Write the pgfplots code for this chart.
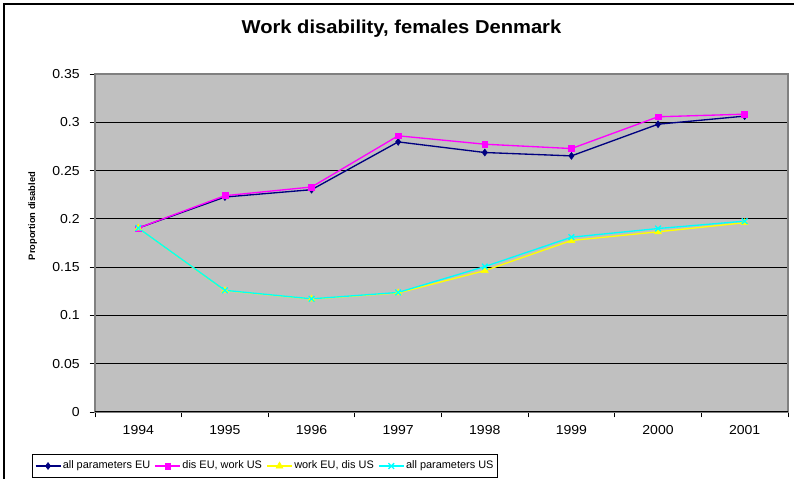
\documentclass[border=0pt]{standalone}
\usepackage{pgfplots}
\pgfplotsset{compat=1.18}
\usepackage{fontspec}
\setmainfont{Liberation Sans}[FakeStretch=1.08]
\newfontfamily\plainfont{Liberation Sans}
\definecolor{plotgray}{HTML}{C0C0C0}
\definecolor{bordergray}{HTML}{808080}
\definecolor{navyc}{HTML}{000080}
\definecolor{magc}{HTML}{FF00FF}
\definecolor{yelc}{HTML}{FFFF00}
\definecolor{cyac}{HTML}{00FFFF}
\begin{document}
\begin{tikzpicture}[x=1pt,y=1pt]
\useasboundingbox (0,0) rectangle (595.5,359.25);
\draw[black, line width=0.8pt] (3,-2) -- (3,356.25) -- (598,356.25);
\node[font=\fontsize{14}{16}\selectfont\bfseries] at (301.1,337.5) {Work disability, females Denmark};
\node[rotate=90, font=\plainfont\fontsize{7}{8}\selectfont\bfseries] at (24.5,197.25) {Proportion disabled};
\begin{axis}[
  at={(71.25pt,50.25pt)}, anchor=south west,
  scale only axis, width=519.75pt, height=253.5pt,
  xmin=-0.5, xmax=7.5, ymin=0, ymax=0.35,
  axis background/.style={fill=plotgray},
  axis line style={draw=bordergray, line width=0.8pt},
  ymajorgrids, grid style={black, line width=0.6pt},
  tick align=outside,
  xtick pos=bottom, ytick pos=left,
  xtick={0,1,2,3,4,5,6,7},
  xticklabels={1994,1995,1996,1997,1998,1999,2000,2001},
  major x tick style={draw=none},
  minor xtick={-0.5,0.5,1.5,2.5,3.5,4.5,5.5,6.5,7.5},
  minor x tick style={black, line width=0.6pt},
  minor tick length=4pt,
  major tick length=4pt,
  ytick={0,0.05,0.1,0.15,0.2,0.25,0.3,0.35},
  yticklabels={0,0.05,0.1,0.15,0.2,0.25,0.3,0.35},
  major y tick style={black, line width=0.6pt},
  ticklabel style={font=\fontsize{9.75}{11}\selectfont},
  yticklabel style={xshift=-4pt},
  xticklabel style={yshift=-2.5pt},
  /pgf/number format/assume math mode=true,
  legend columns=4,
  legend image code/.code={\draw[mark repeat=2,mark phase=2,#1] plot coordinates {(0pt,0pt) (9.4pt,0pt) (18.75pt,0pt)};},
  legend style={at={(0.2453,-0.1598)}, anchor=center, draw=black, line width=0.6pt,
    font=\plainfont\fontsize{8.2}{9.5}\selectfont, inner xsep=2pt, inner ysep=3.5pt,
    nodes={inner sep=1.2pt},
    /tikz/every even column/.append style={column sep=2pt}},
]
\addplot[color=navyc, line width=1pt, mark=diamond*, mark size=2.6pt, mark options={solid, fill=navyc, line width=0.4pt}]
  coordinates {(0,0.1905) (1,0.2226) (2,0.2302) (3,0.2797) (4,0.2687) (5,0.2652) (6,0.2980) (7,0.3064)};
\addlegendentry{all parameters EU}
\addplot[color=magc, line width=1pt, mark=square*, mark size=2.2pt, mark options={solid, fill=magc, line width=0.4pt}]
  coordinates {(0,0.1905) (1,0.2240) (2,0.2330) (3,0.2860) (4,0.2773) (5,0.2728) (6,0.3057) (7,0.3084)};
\addlegendentry{dis EU, work US}
\addplot[color=yelc, line width=1pt, mark=triangle*, mark size=3pt, mark options={solid, fill=yelc, line width=0.4pt}]
  coordinates {(0,0.1905) (1,0.1257) (2,0.1170) (3,0.1233) (4,0.1464) (5,0.1776) (6,0.1866) (7,0.1960)};
\addlegendentry{work EU, dis US}
\addplot[color=cyac, line width=1pt, mark=x, mark size=3pt, mark options={solid, line width=1pt}]
  coordinates {(0,0.1905) (1,0.1260) (2,0.1172) (3,0.1238) (4,0.1506) (5,0.1810) (6,0.1900) (7,0.1976)};
\addlegendentry{all parameters US}
\draw[black, line width=0.8pt] (axis cs:-0.5,0) -- (axis cs:7.5,0);
\end{axis}
\end{tikzpicture}
\end{document}
